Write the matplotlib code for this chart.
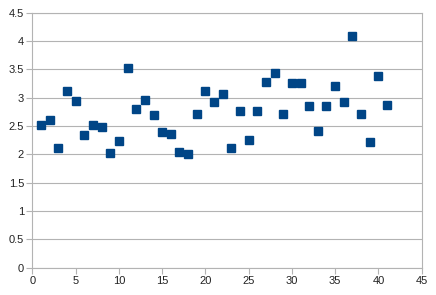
import matplotlib
matplotlib.use("Agg")
import matplotlib.pyplot as plt
import numpy as np

x = list(range(1, 42))
y = [2.52, 2.60, 2.12, 3.12, 2.95, 2.34, 2.52, 2.48, 2.02, 2.24,
     3.52, 2.80, 2.96, 2.70, 2.40, 2.36, 2.04, 2.00, 2.72, 3.12,
     2.92, 3.06, 2.12, 2.76, 2.26, 2.76, 3.28, 3.44, 2.71, 3.26,
     3.26, 2.85, 2.41, 2.86, 3.21, 2.93, 4.09, 2.72, 2.22, 3.39, 2.87]
xticks = list(range(0, 46, 5))
yticks = [0, 0.5, 1, 1.5, 2, 2.5, 3, 3.5, 4, 4.5]

plt.rcParams['font.family'] = ['Liberation Sans', 'DejaVu Sans']
fig = plt.figure(figsize=(4.36, 2.95), dpi=100)
ax = fig.add_axes([0.0745, 0.0925, 0.8925, 0.8645])
ax.plot(x, y, linestyle='none', marker='s', markersize=6, color='#004586',
        markeredgecolor='#004586', zorder=3)
ax.set_xlim(0, 45)
ax.set_ylim(0, 4.5)
ax.set_xticks(xticks)
ax.set_yticks(yticks)
ax.set_yticklabels([('%g' % v) for v in yticks])
ax.yaxis.grid(True, color='#b3b3b3', linewidth=0.8)
ax.set_axisbelow(True)
for s in ax.spines.values():
    s.set_color('#b3b3b3')
    s.set_linewidth(0.8)
ax.tick_params(axis='both', colors='#b3b3b3', labelcolor='#222222', labelsize=8,
               length=4, width=0.8, pad=2)
fig.savefig('out.png', dpi=100)
